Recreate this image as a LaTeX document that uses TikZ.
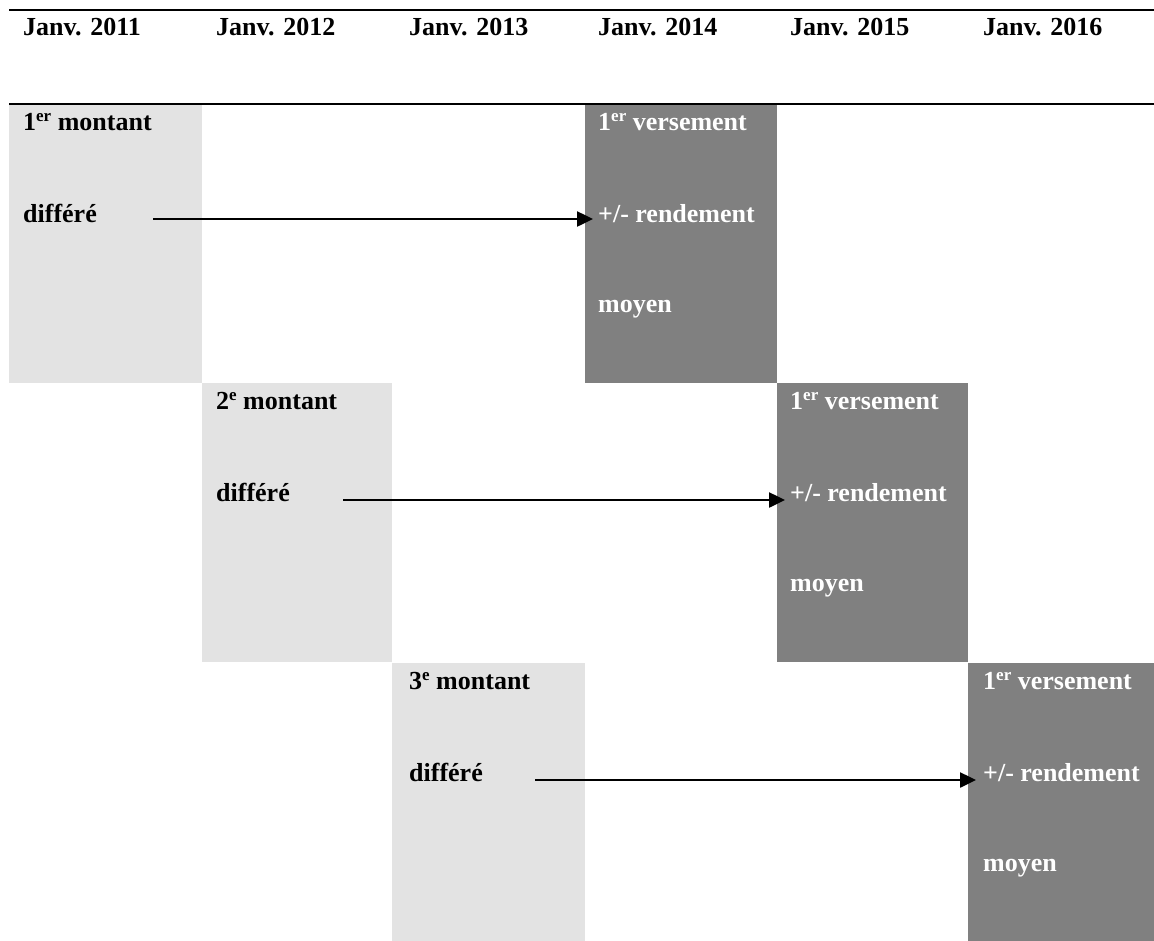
\documentclass[tikz,border=0pt]{standalone}
\usepackage{fontspec}
\setmainfont{Liberation Serif}
\usetikzlibrary{arrows.meta}
\definecolor{lightg}{HTML}{E3E3E3}
\definecolor{darkg}{HTML}{808080}
\newcommand\sups[1]{\raisebox{9pt}{\fontsize{17}{17}\selectfont #1}}
\begin{document}
\begin{tikzpicture}[x=1pt,y=-1pt,
  txt/.style={inner sep=0pt,anchor=base west,font=\fontsize{26}{30}\selectfont\bfseries},
  wtxt/.style={txt,text=white},
  lbox/.style={fill=lightg,draw=none,inner sep=0pt,anchor=north west,minimum height=279pt},
  dbox/.style={fill=darkg,draw=none,inner sep=0pt,anchor=north west,minimum height=279pt},
  rulestyle/.style={line width=1.6pt,black},
  arr/.style={line width=2.5pt,shorten >=-8pt,-{Triangle[length=16pt,width=15pt]}}]
\useasboundingbox (0,0) rectangle (1154,940);
% boxes
\node[lbox,minimum width=193pt] (l1) at (9,104) {};
\node[lbox,minimum width=190pt] (l2) at (202,383) {};
\node[lbox,minimum width=193pt] (l3) at (392,663) {};
\node[dbox,minimum width=192pt] (d1) at (585,104) {};
\node[dbox,minimum width=191pt] (d2) at (777,383) {};
\node[dbox,minimum width=186pt] (d3) at (968,663) {};
% rules
\draw[rulestyle] (9,10) -- (1154,10);
\draw[rulestyle] (9,104) -- (1154,104);
% header
\node[txt] (h1) at (23,35) {Janv. 2011};
\node[txt] (h2) at (216,35) {Janv. 2012};
\node[txt] (h3) at (409,35) {Janv. 2013};
\node[txt] (h4) at (598,35) {Janv. 2014};
\node[txt] (h5) at (790,35) {Janv. 2015};
\node[txt] (h6) at (983,35) {Janv. 2016};
% row 1
\node[txt] (m1) at (23,130) {1\sups{er} montant};
\node[txt] (f1) at (23,222) {différé};
\node[wtxt] (v1) at (598,130) {1\sups{er} versement};
\node[wtxt] (r1) at (598,222) {+/- rendement};
\node[wtxt] (y1) at (598,312) {moyen};
% row 2
\node[txt] (m2) at (216,409) {2\sups{e} montant};
\node[txt] (f2) at (216,501) {différé};
\node[wtxt] (v2) at (790,409) {1\sups{er} versement};
\node[wtxt] (r2) at (790,501) {+/- rendement};
\node[wtxt] (y2) at (790,591) {moyen};
% row 3
\node[txt] (m3) at (409,689) {3\sups{e} montant};
\node[txt] (f3) at (409,781) {différé};
\node[wtxt] (v3) at (983,689) {1\sups{er} versement};
\node[wtxt] (r3) at (983,781) {+/- rendement};
\node[wtxt] (y3) at (983,871) {moyen};
% arrows
\coordinate (s1) at (153,219);
\coordinate (s2) at (343,500);
\coordinate (s3) at (535,780);
\draw[arr] (s1) -- (s1 -| d1.west);
\draw[arr] (s2) -- (s2 -| d2.west);
\draw[arr] (s3) -- (s3 -| d3.west);
\end{tikzpicture}
\end{document}
